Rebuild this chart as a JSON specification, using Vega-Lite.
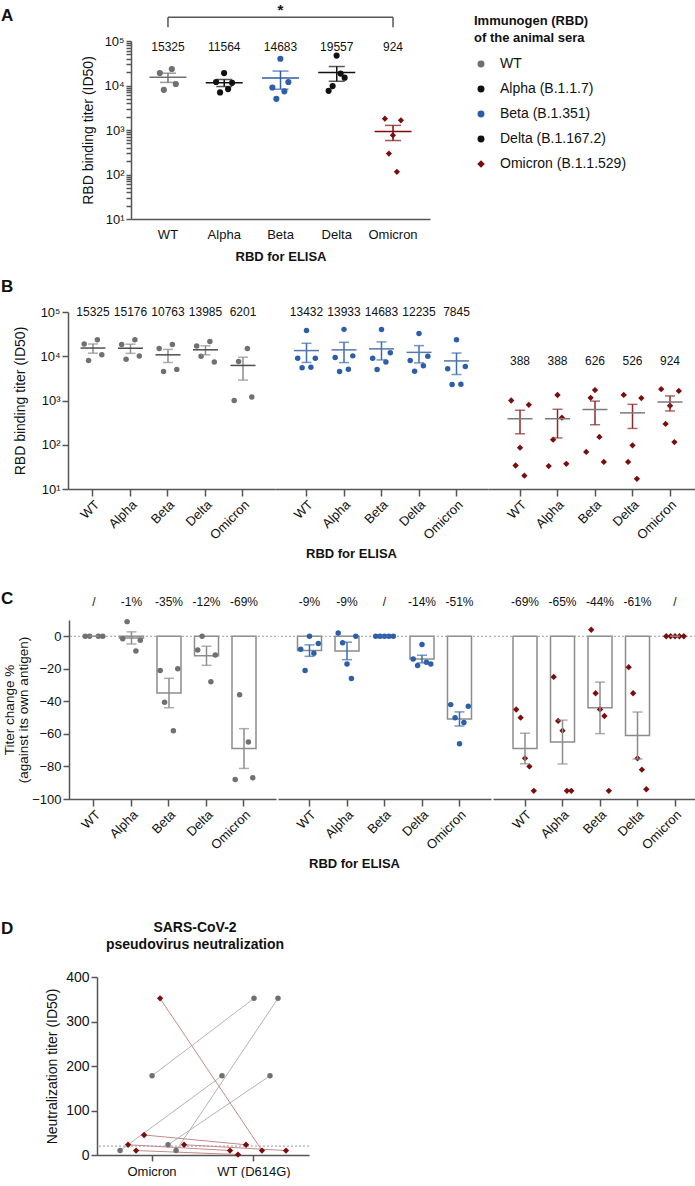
{
"$schema": "https://vega.github.io/schema/vega-lite/v6.json",
"padding": {"left": 1, "top": 2, "right": 0, "bottom": 0},
"config": {
  "font": "Liberation Sans",
  "view": {"stroke": null},
  "axis": {"grid": false, "domainColor": "#555555", "domainWidth": 1.5, "tickColor": "#555555", "tickWidth": 1.5, "labelColor": "#111111", "titleColor": "#111111", "labelFontSize": 13, "titleFontSize": 14, "titleFontWeight": "normal", "labelOverlap": false},
  "axisY": {"labelOverlap": false},
  "axisQuantitative": {"labelOverlap": false},
  "title": {"fontWeight": "bold", "color": "#111111"},
  "legend": {"labelColor": "#111111", "titleColor": "#111111"}
},
"datasets": {
  "bind": [
    {"sera":"WT","antigen":"WT","rep":1,"titer":19000},{"sera":"WT","antigen":"WT","rep":2,"titer":8000},{"sera":"WT","antigen":"WT","rep":4,"titer":23500},{"sera":"WT","antigen":"WT","rep":5,"titer":10800},
    {"sera":"WT","antigen":"Alpha","rep":1,"titer":18500},{"sera":"WT","antigen":"Alpha","rep":2,"titer":8600},{"sera":"WT","antigen":"Alpha","rep":4,"titer":23500},{"sera":"WT","antigen":"Alpha","rep":5,"titer":10100},
    {"sera":"WT","antigen":"Beta","rep":1,"titer":15000},{"sera":"WT","antigen":"Beta","rep":2,"titer":4500},{"sera":"WT","antigen":"Beta","rep":4,"titer":18500},{"sera":"WT","antigen":"Beta","rep":5,"titer":5050},
    {"sera":"WT","antigen":"Delta","rep":1,"titer":17000},{"sera":"WT","antigen":"Delta","rep":2,"titer":10000},{"sera":"WT","antigen":"Delta","rep":4,"titer":21500},{"sera":"WT","antigen":"Delta","rep":5,"titer":7440},
    {"sera":"WT","antigen":"Omicron","rep":1,"titer":1000},{"sera":"WT","antigen":"Omicron","rep":2,"titer":7600},{"sera":"WT","antigen":"Omicron","rep":4,"titer":15000},{"sera":"WT","antigen":"Omicron","rep":5,"titer":1200},
    {"sera":"Alpha","antigen":"Alpha","rep":1,"titer":12000},{"sera":"Alpha","antigen":"Alpha","rep":2,"titer":7000},{"sera":"Alpha","antigen":"Alpha","rep":3,"titer":19000},{"sera":"Alpha","antigen":"Alpha","rep":4,"titer":8300},{"sera":"Alpha","antigen":"Alpha","rep":5,"titer":11500},
    {"sera":"Beta","antigen":"WT","rep":1,"titer":9000},{"sera":"Beta","antigen":"WT","rep":2,"titer":5500},{"sera":"Beta","antigen":"WT","rep":3,"titer":38000},{"sera":"Beta","antigen":"WT","rep":4,"titer":5660},{"sera":"Beta","antigen":"WT","rep":5,"titer":9000},
    {"sera":"Beta","antigen":"Alpha","rep":1,"titer":9400},{"sera":"Beta","antigen":"Alpha","rep":2,"titer":4500},{"sera":"Beta","antigen":"Alpha","rep":3,"titer":40500},{"sera":"Beta","antigen":"Alpha","rep":4,"titer":5065},{"sera":"Beta","antigen":"Alpha","rep":5,"titer":10200},
    {"sera":"Beta","antigen":"Beta","rep":1,"titer":9000},{"sera":"Beta","antigen":"Beta","rep":2,"titer":5015},{"sera":"Beta","antigen":"Beta","rep":3,"titer":40000},{"sera":"Beta","antigen":"Beta","rep":4,"titer":7400},{"sera":"Beta","antigen":"Beta","rep":5,"titer":12000},
    {"sera":"Beta","antigen":"Delta","rep":1,"titer":8000},{"sera":"Beta","antigen":"Delta","rep":2,"titer":4600},{"sera":"Beta","antigen":"Delta","rep":3,"titer":32500},{"sera":"Beta","antigen":"Delta","rep":4,"titer":6075},{"sera":"Beta","antigen":"Delta","rep":5,"titer":10000},
    {"sera":"Beta","antigen":"Omicron","rep":1,"titer":5200},{"sera":"Beta","antigen":"Omicron","rep":2,"titer":2300},{"sera":"Beta","antigen":"Omicron","rep":3,"titer":23500},{"sera":"Beta","antigen":"Omicron","rep":4,"titer":2325},{"sera":"Beta","antigen":"Omicron","rep":5,"titer":5900},
    {"sera":"Delta","antigen":"Delta","rep":1,"titer":7600},{"sera":"Delta","antigen":"Delta","rep":2,"titer":9700},{"sera":"Delta","antigen":"Delta","rep":3,"titer":47000},{"sera":"Delta","antigen":"Delta","rep":4,"titer":18500},{"sera":"Delta","antigen":"Delta","rep":5,"titer":15000},
    {"sera":"Omicron","antigen":"WT","rep":1,"titer":1000},{"sera":"Omicron","antigen":"WT","rep":2,"titer":34},{"sera":"Omicron","antigen":"WT","rep":3,"titer":86},{"sera":"Omicron","antigen":"WT","rep":4,"titer":20},{"sera":"Omicron","antigen":"WT","rep":5,"titer":800},
    {"sera":"Omicron","antigen":"Alpha","rep":1,"titer":33},{"sera":"Omicron","antigen":"Alpha","rep":2,"titer":130},{"sera":"Omicron","antigen":"Alpha","rep":3,"titer":1330},{"sera":"Omicron","antigen":"Alpha","rep":4,"titer":410},{"sera":"Omicron","antigen":"Alpha","rep":5,"titer":37},
    {"sera":"Omicron","antigen":"Beta","rep":1,"titer":69},{"sera":"Omicron","antigen":"Beta","rep":2,"titer":1150},{"sera":"Omicron","antigen":"Beta","rep":3,"titer":1720},{"sera":"Omicron","antigen":"Beta","rep":4,"titer":150},{"sera":"Omicron","antigen":"Beta","rep":5,"titer":41},
    {"sera":"Omicron","antigen":"Delta","rep":1,"titer":1340},{"sera":"Omicron","antigen":"Delta","rep":2,"titer":41},{"sera":"Omicron","antigen":"Delta","rep":3,"titer":97},{"sera":"Omicron","antigen":"Delta","rep":4,"titer":17},{"sera":"Omicron","antigen":"Delta","rep":5,"titer":1135},
    {"sera":"Omicron","antigen":"Omicron","rep":1,"titer":1800},{"sera":"Omicron","antigen":"Omicron","rep":2,"titer":295},{"sera":"Omicron","antigen":"Omicron","rep":3,"titer":760},{"sera":"Omicron","antigen":"Omicron","rep":4,"titer":115},{"sera":"Omicron","antigen":"Omicron","rep":5,"titer":1650}
  ],
  "bindLab": [
    {"sera":"WT","antigen":"WT","label":"15325"},{"sera":"WT","antigen":"Alpha","label":"15176"},{"sera":"WT","antigen":"Beta","label":"10763"},{"sera":"WT","antigen":"Delta","label":"13985"},{"sera":"WT","antigen":"Omicron","label":"6201"},
    {"sera":"Alpha","antigen":"Alpha","label":"11564"},
    {"sera":"Beta","antigen":"WT","label":"13432"},{"sera":"Beta","antigen":"Alpha","label":"13933"},{"sera":"Beta","antigen":"Beta","label":"14683"},{"sera":"Beta","antigen":"Delta","label":"12235"},{"sera":"Beta","antigen":"Omicron","label":"7845"},
    {"sera":"Delta","antigen":"Delta","label":"19557"},
    {"sera":"Omicron","antigen":"WT","label":"388"},{"sera":"Omicron","antigen":"Alpha","label":"388"},{"sera":"Omicron","antigen":"Beta","label":"626"},{"sera":"Omicron","antigen":"Delta","label":"526"},{"sera":"Omicron","antigen":"Omicron","label":"924"}
  ],
  "chg": [
    {"sera":"WT","antigen":"WT","rep":1,"change":0},{"sera":"WT","antigen":"WT","rep":2,"change":0},{"sera":"WT","antigen":"WT","rep":4,"change":0},{"sera":"WT","antigen":"WT","rep":5,"change":0},
    {"sera":"WT","antigen":"Alpha","rep":1,"change":-1.5},{"sera":"WT","antigen":"Alpha","rep":2,"change":9},{"sera":"WT","antigen":"Alpha","rep":4,"change":-9},{"sera":"WT","antigen":"Alpha","rep":5,"change":-2.5},
    {"sera":"WT","antigen":"Beta","rep":1,"change":-21},{"sera":"WT","antigen":"Beta","rep":2,"change":-40.5},{"sera":"WT","antigen":"Beta","rep":4,"change":-58},{"sera":"WT","antigen":"Beta","rep":5,"change":-20},
    {"sera":"WT","antigen":"Delta","rep":1,"change":-8.5},{"sera":"WT","antigen":"Delta","rep":2,"change":0},{"sera":"WT","antigen":"Delta","rep":4,"change":-28},{"sera":"WT","antigen":"Delta","rep":5,"change":-11.5},
    {"sera":"WT","antigen":"Omicron","rep":1,"change":-88},{"sera":"WT","antigen":"Omicron","rep":2,"change":-36},{"sera":"WT","antigen":"Omicron","rep":4,"change":-65},{"sera":"WT","antigen":"Omicron","rep":5,"change":-87},
    {"sera":"Beta","antigen":"WT","rep":1,"change":-8},{"sera":"Beta","antigen":"WT","rep":2,"change":-21},{"sera":"Beta","antigen":"WT","rep":3,"change":0},{"sera":"Beta","antigen":"WT","rep":4,"change":-10.5},{"sera":"Beta","antigen":"WT","rep":5,"change":-4.5},
    {"sera":"Beta","antigen":"Alpha","rep":1,"change":2},{"sera":"Beta","antigen":"Alpha","rep":2,"change":-4},{"sera":"Beta","antigen":"Alpha","rep":3,"change":-17},{"sera":"Beta","antigen":"Alpha","rep":4,"change":-26},{"sera":"Beta","antigen":"Alpha","rep":5,"change":0},
    {"sera":"Beta","antigen":"Beta","rep":1,"change":0},{"sera":"Beta","antigen":"Beta","rep":2,"change":0},{"sera":"Beta","antigen":"Beta","rep":3,"change":0},{"sera":"Beta","antigen":"Beta","rep":4,"change":0},{"sera":"Beta","antigen":"Beta","rep":5,"change":0},
    {"sera":"Beta","antigen":"Delta","rep":1,"change":-14},{"sera":"Beta","antigen":"Delta","rep":2,"change":-18},{"sera":"Beta","antigen":"Delta","rep":3,"change":-5},{"sera":"Beta","antigen":"Delta","rep":4,"change":-16},{"sera":"Beta","antigen":"Delta","rep":5,"change":-17},
    {"sera":"Beta","antigen":"Omicron","rep":1,"change":-42},{"sera":"Beta","antigen":"Omicron","rep":2,"change":-50},{"sera":"Beta","antigen":"Omicron","rep":3,"change":-66},{"sera":"Beta","antigen":"Omicron","rep":4,"change":-53},{"sera":"Beta","antigen":"Omicron","rep":5,"change":-43},
    {"sera":"Omicron","antigen":"WT","rep":1,"change":-45},{"sera":"Omicron","antigen":"WT","rep":2,"change":-50},{"sera":"Omicron","antigen":"WT","rep":3,"change":-75},{"sera":"Omicron","antigen":"WT","rep":4,"change":-80},{"sera":"Omicron","antigen":"WT","rep":5,"change":-95},
    {"sera":"Omicron","antigen":"Alpha","rep":1,"change":-25},{"sera":"Omicron","antigen":"Alpha","rep":2,"change":-52},{"sera":"Omicron","antigen":"Alpha","rep":3,"change":-58},{"sera":"Omicron","antigen":"Alpha","rep":4,"change":-95},{"sera":"Omicron","antigen":"Alpha","rep":5,"change":-95},
    {"sera":"Omicron","antigen":"Beta","rep":1,"change":4},{"sera":"Omicron","antigen":"Beta","rep":2,"change":-35},{"sera":"Omicron","antigen":"Beta","rep":3,"change":-45},{"sera":"Omicron","antigen":"Beta","rep":4,"change":-49},{"sera":"Omicron","antigen":"Beta","rep":5,"change":-95},
    {"sera":"Omicron","antigen":"Delta","rep":1,"change":-19},{"sera":"Omicron","antigen":"Delta","rep":2,"change":-35},{"sera":"Omicron","antigen":"Delta","rep":3,"change":-75},{"sera":"Omicron","antigen":"Delta","rep":4,"change":-82},{"sera":"Omicron","antigen":"Delta","rep":5,"change":-94},
    {"sera":"Omicron","antigen":"Omicron","rep":1,"change":0},{"sera":"Omicron","antigen":"Omicron","rep":2,"change":0},{"sera":"Omicron","antigen":"Omicron","rep":3,"change":0},{"sera":"Omicron","antigen":"Omicron","rep":4,"change":0},{"sera":"Omicron","antigen":"Omicron","rep":5,"change":0}
  ],
  "chgLab": [
    {"sera":"WT","antigen":"WT","label":"/"},{"sera":"WT","antigen":"Alpha","label":"-1%"},{"sera":"WT","antigen":"Beta","label":"-35%"},{"sera":"WT","antigen":"Delta","label":"-12%"},{"sera":"WT","antigen":"Omicron","label":"-69%"},
    {"sera":"Beta","antigen":"WT","label":"-9%"},{"sera":"Beta","antigen":"Alpha","label":"-9%"},{"sera":"Beta","antigen":"Beta","label":"/"},{"sera":"Beta","antigen":"Delta","label":"-14%"},{"sera":"Beta","antigen":"Omicron","label":"-51%"},
    {"sera":"Omicron","antigen":"WT","label":"-69%"},{"sera":"Omicron","antigen":"Alpha","label":"-65%"},{"sera":"Omicron","antigen":"Beta","label":"-44%"},{"sera":"Omicron","antigen":"Delta","label":"-61%"},{"sera":"Omicron","antigen":"Omicron","label":"/"}
  ],
  "neut": [
    {"sera":"WT","animal":"W1","virus":"Omicron","titer":178},{"sera":"WT","animal":"W1","virus":"WT (D614G)","titer":352},
    {"sera":"WT","animal":"W2","virus":"Omicron","titer":10},{"sera":"WT","animal":"W2","virus":"WT (D614G)","titer":352},
    {"sera":"WT","animal":"W3","virus":"Omicron","titer":10},{"sera":"WT","animal":"W3","virus":"WT (D614G)","titer":178},
    {"sera":"WT","animal":"W4","virus":"Omicron","titer":23},{"sera":"WT","animal":"W4","virus":"WT (D614G)","titer":178},
    {"sera":"Omicron","animal":"O1","virus":"Omicron","titer":352},{"sera":"Omicron","animal":"O1","virus":"WT (D614G)","titer":10},
    {"sera":"Omicron","animal":"O2","virus":"Omicron","titer":45},{"sera":"Omicron","animal":"O2","virus":"WT (D614G)","titer":23},
    {"sera":"Omicron","animal":"O3","virus":"Omicron","titer":23},{"sera":"Omicron","animal":"O3","virus":"WT (D614G)","titer":10},
    {"sera":"Omicron","animal":"O4","virus":"Omicron","titer":10},{"sera":"Omicron","animal":"O4","virus":"WT (D614G)","titer":1},
    {"sera":"Omicron","animal":"O5","virus":"Omicron","titer":23},{"sera":"Omicron","animal":"O5","virus":"WT (D614G)","titer":10}
  ]
},
"resolve": {"scale": {"x": "independent", "y": "independent", "xOffset": "independent", "color": "independent", "shape": "independent"}},
"spacing": 29,
"vconcat": [
 {"spacing": 15,
  "resolve": {"scale": {"x": "independent", "y": "independent", "xOffset": "independent", "color": "independent", "shape": "independent"}},
  "vconcat": [
   {"title": {"text": "A", "anchor": "start", "fontSize": 17, "offset": -22},
    "spacing": 0,
    "resolve": {"scale": {"x": "independent", "y": "independent", "xOffset": "independent", "color": "independent", "shape": "independent"}},
    "hconcat": [
     {"width": 80, "height": 1, "data": {"values": [{}]}, "mark": {"type": "text"}, "encoding": {"text": {"value": ""}}},
     {"width": 299, "height": 178,
      "layer": [
       {"data": {"name": "bind"}, "transform": [{"filter": "datum.sera === datum.antigen"}],
        "mark": {"type": "point", "filled": true, "opacity": 1, "size": 38},
        "encoding": {
          "x": {"field": "antigen", "type": "nominal", "title": "RBD for ELISA", "scale": {"domain": ["WT","Alpha","Beta","Delta","Omicron"], "paddingInner": 0, "paddingOuter": 0.157}, "axis": {"labelAngle": 0, "ticks": false, "labelPadding": 9, "labelFontSize": 13, "titleFontWeight": "bold", "titleFontSize": 13, "titlePadding": 9}},
          "xOffset": {"field": "rep", "type": "ordinal", "scale": {"type": "point", "domain": [1,2,3,4,5], "range": [18, 38]}},
          "y": {"field": "titer", "type": "quantitative", "title": "RBD binding titer (ID50)", "scale": {"type": "log", "domain": [10, 100000], "nice": false}, "axis": {"values": [10,20,30,40,50,60,70,80,90,100,200,300,400,500,600,700,800,900,1000,2000,3000,4000,5000,6000,7000,8000,9000,10000,20000,30000,40000,50000,60000,70000,80000,90000,100000], "labelExpr": "indexof([10,100,1000,10000,100000], datum.value) >= 0 ? '10' + ['⁰','¹','²','³','⁴','⁵'][round(log(datum.value)/LN10)] : ''", "tickSize": 5, "labelPadding": 2, "titlePadding": 8, "labelOverlap": false}},
          "color": {"field": "sera", "type": "nominal", "title": ["Immunogen (RBD)", "of the animal sera"], "scale": {"domain": ["WT","Alpha","Beta","Delta","Omicron"], "range": ["#707070","#111111","#2d5ea8","#111111","#7b0d0d"]},
            "legend": {"orient": "none", "legendX": 343, "legendY": -26, "titleFontSize": 13, "titleFontWeight": "bold", "titleLineHeight": 17, "titlePadding": 12, "labelFontSize": 14, "labelOffset": 12, "rowPadding": 11, "symbolSize": 30,
              "labelExpr": "datum.label == 'Alpha' ? 'Alpha (B.1.1.7)' : datum.label == 'Beta' ? 'Beta (B.1.351)' : datum.label == 'Delta' ? 'Delta (B.1.167.2)' : datum.label == 'Omicron' ? 'Omicron (B.1.1.529)' : datum.label"}},
          "shape": {"field": "sera", "type": "nominal", "title": ["Immunogen (RBD)", "of the animal sera"], "scale": {"domain": ["WT","Alpha","Beta","Delta","Omicron"], "range": ["circle","circle","circle","circle","diamond"]},
            "legend": {"orient": "none", "legendX": 343, "legendY": -26, "titleFontSize": 13, "titleFontWeight": "bold", "titleLineHeight": 17, "titlePadding": 12, "labelFontSize": 14, "labelOffset": 12, "rowPadding": 11, "symbolSize": 30,
              "labelExpr": "datum.label == 'Alpha' ? 'Alpha (B.1.1.7)' : datum.label == 'Beta' ? 'Beta (B.1.351)' : datum.label == 'Delta' ? 'Delta (B.1.167.2)' : datum.label == 'Omicron' ? 'Omicron (B.1.1.529)' : datum.label"}}
        }},
       {"data": {"name": "bind"}, "transform": [{"filter": "datum.sera === datum.antigen"}],
        "mark": {"type": "errorbar", "extent": "stderr", "thickness": 1.5, "size": 16, "ticks": true},
        "encoding": {
          "x": {"field": "antigen", "type": "nominal", "title": "RBD for ELISA", "scale": {"domain": ["WT","Alpha","Beta","Delta","Omicron"]}},
          "y": {"field": "titer", "type": "quantitative", "title": "RBD binding titer (ID50)"},
          "color": {"field": "sera", "type": "nominal", "legend": null}
        }},
       {"data": {"name": "bind"}, "transform": [{"filter": "datum.sera === datum.antigen"}],
        "mark": {"type": "tick", "thickness": 1.5, "size": 37},
        "encoding": {
          "x": {"field": "antigen", "type": "nominal", "title": "RBD for ELISA", "scale": {"domain": ["WT","Alpha","Beta","Delta","Omicron"]}},
          "y": {"aggregate": "mean", "field": "titer", "type": "quantitative", "title": "RBD binding titer (ID50)"},
          "color": {"field": "sera", "type": "nominal", "legend": null}
        }},
       {"data": {"name": "bindLab"}, "transform": [{"filter": "datum.sera === datum.antigen"}],
        "mark": {"type": "text", "fontSize": 12, "baseline": "middle", "color": "#111111"},
        "encoding": {
          "x": {"field": "antigen", "type": "nominal", "title": "RBD for ELISA", "scale": {"domain": ["WT","Alpha","Beta","Delta","Omicron"]}},
          "y": {"datum": 75000, "type": "quantitative"},
          "text": {"field": "label"}
        }},
       {"data": {"values": [{"antigen": "WT", "antigen2": "Omicron"}]},
        "mark": {"type": "rule", "color": "#555555", "strokeWidth": 1.5},
        "encoding": {
          "x": {"field": "antigen", "type": "nominal", "title": "RBD for ELISA", "bandPosition": 0.5, "scale": {"domain": ["WT","Alpha","Beta","Delta","Omicron"]}},
          "x2": {"field": "antigen2", "bandPosition": 0.5},
          "y": {"datum": 340000, "type": "quantitative"}
        }},
       {"data": {"values": [{"antigen": "WT"}, {"antigen": "Omicron"}]},
        "mark": {"type": "rule", "color": "#555555", "strokeWidth": 1.5},
        "encoding": {
          "x": {"field": "antigen", "type": "nominal", "title": "RBD for ELISA", "bandPosition": 0.5, "scale": {"domain": ["WT","Alpha","Beta","Delta","Omicron"]}},
          "y": {"datum": 340000, "type": "quantitative"},
          "y2": {"datum": 205000}
        }},
       {"data": {"values": [{"antigen": "Beta", "sig": "*"}]},
        "mark": {"type": "text", "fontSize": 15, "fontWeight": "bold", "baseline": "middle", "color": "#111111"},
        "encoding": {
          "x": {"field": "antigen", "type": "nominal", "title": "RBD for ELISA", "scale": {"domain": ["WT","Alpha","Beta","Delta","Omicron"]}},
          "y": {"datum": 500000, "type": "quantitative"},
          "text": {"field": "sig"}
        }}
      ]}
    ]},
   {"title": {"text": "B", "anchor": "start", "fontSize": 17, "offset": 10},
    "spacing": 0,
    "resolve": {"scale": {"x": "independent", "y": "independent", "xOffset": "independent", "color": "independent", "shape": "independent"}},
    "hconcat": [
     {"width": 12, "height": 1, "data": {"values": [{}]}, "mark": {"type": "text"}, "encoding": {"text": {"value": ""}}},
     {"width": 207, "height": 177,
      "layer": [
       {"data": {"name": "bind"}, "transform": [{"filter": "datum.sera === 'WT'"}],
        "mark": {"type": "point", "filled": true, "opacity": 1, "size": 30, "color": "#707070"},
        "encoding": {
          "x": {"field": "antigen", "type": "nominal", "title": null, "scale": {"domain": ["WT","Alpha","Beta","Delta","Omicron"], "paddingInner": 0, "paddingOuter": 0.26, "align": 0.32}, "axis": {"labelAngle": -45, "tickSize": 7, "labelPadding": 2}},
          "xOffset": {"field": "rep", "type": "ordinal", "scale": {"type": "point", "domain": [1,2,3,4,5], "range": [7.75, 29.75]}},
          "y": {"field": "titer", "type": "quantitative", "title": "RBD binding titer (ID50)", "scale": {"type": "log", "domain": [10, 100000], "nice": false}, "axis": {"values": [10,100,1000,10000,100000], "labelExpr": "'10' + ['⁰','¹','²','³','⁴','⁵'][round(log(datum.value)/LN10)]", "tickSize": 6, "labelPadding": 2, "titlePadding": 12, "labelOverlap": false}}
        }},
       {"data": {"name": "bind"}, "transform": [{"filter": "datum.sera === 'WT'"}],
        "mark": {"type": "errorbar", "extent": "stderr", "color": "#8c8c8c", "thickness": 1.5, "size": 10, "ticks": true},
        "encoding": {"x": {"field": "antigen", "type": "nominal", "title": null}, "y": {"field": "titer", "type": "quantitative", "title": "RBD binding titer (ID50)"}}},
       {"data": {"name": "bind"}, "transform": [{"filter": "datum.sera === 'WT'"}],
        "mark": {"type": "tick", "color": "#4d4d4d", "thickness": 1.5, "size": 25},
        "encoding": {"x": {"field": "antigen", "type": "nominal", "title": null}, "y": {"aggregate": "mean", "field": "titer", "type": "quantitative", "title": "RBD binding titer (ID50)"}}},
       {"data": {"name": "bindLab"}, "transform": [{"filter": "datum.sera === 'WT'"}],
        "mark": {"type": "text", "fontSize": 12, "baseline": "middle", "color": "#111111"},
        "encoding": {"x": {"field": "antigen", "type": "nominal", "title": null}, "y": {"datum": 100000, "type": "quantitative"}, "text": {"field": "label"}}}
      ]},
     {"width": 213, "height": 177,
      "layer": [
       {"data": {"name": "bind"}, "transform": [{"filter": "datum.sera === 'Beta'"}],
        "mark": {"type": "point", "filled": true, "opacity": 1, "size": 30, "color": "#2d5ea8"},
        "encoding": {
          "x": {"field": "antigen", "type": "nominal", "title": "RBD for ELISA", "scale": {"domain": ["WT","Alpha","Beta","Delta","Omicron"], "paddingInner": 0, "paddingOuter": 0.34, "align": 0.5}, "axis": {"labelAngle": -45, "tickSize": 7, "labelPadding": 2, "titleFontWeight": "bold", "titleFontSize": 13, "titlePadding": 6, "titleX": 76}},
          "xOffset": {"field": "rep", "type": "ordinal", "scale": {"type": "point", "domain": [1,2,3,4,5], "range": [7.75, 29.75]}},
          "y": {"field": "titer", "type": "quantitative", "scale": {"type": "log", "domain": [10, 100000], "nice": false}, "axis": null}
        }},
       {"data": {"name": "bind"}, "transform": [{"filter": "datum.sera === 'Beta'"}],
        "mark": {"type": "errorbar", "extent": "stderr", "color": "#3b6cb4", "thickness": 1.5, "size": 10, "ticks": true},
        "encoding": {"x": {"field": "antigen", "type": "nominal", "title": "RBD for ELISA"}, "y": {"field": "titer", "type": "quantitative", "axis": null}}},
       {"data": {"name": "bind"}, "transform": [{"filter": "datum.sera === 'Beta'"}],
        "mark": {"type": "tick", "color": "#5577aa", "thickness": 1.5, "size": 25},
        "encoding": {"x": {"field": "antigen", "type": "nominal", "title": "RBD for ELISA"}, "y": {"aggregate": "mean", "field": "titer", "type": "quantitative", "axis": null}}},
       {"data": {"name": "bindLab"}, "transform": [{"filter": "datum.sera === 'Beta'"}],
        "mark": {"type": "text", "fontSize": 12, "baseline": "middle", "color": "#111111"},
        "encoding": {"x": {"field": "antigen", "type": "nominal", "title": "RBD for ELISA"}, "y": {"datum": 100000, "type": "quantitative", "axis": null}, "text": {"field": "label"}}}
      ]},
     {"width": 207, "height": 177,
      "layer": [
       {"data": {"name": "bind"}, "transform": [{"filter": "datum.sera === 'Omicron'"}],
        "mark": {"type": "point", "filled": true, "opacity": 1, "size": 40, "shape": "diamond", "color": "#7b0d0d"},
        "encoding": {
          "x": {"field": "antigen", "type": "nominal", "title": null, "scale": {"domain": ["WT","Alpha","Beta","Delta","Omicron"], "paddingInner": 0, "paddingOuter": 0.26, "align": 0.68}, "axis": {"labelAngle": -45, "tickSize": 7, "labelPadding": 2}},
          "xOffset": {"field": "rep", "type": "ordinal", "scale": {"type": "point", "domain": [1,2,3,4,5], "range": [7.75, 29.75]}},
          "y": {"field": "titer", "type": "quantitative", "scale": {"type": "log", "domain": [10, 100000], "nice": false}, "axis": null}
        }},
       {"data": {"name": "bind"}, "transform": [{"filter": "datum.sera === 'Omicron'"}],
        "mark": {"type": "errorbar", "extent": "stderr", "color": "#8e2a2a", "thickness": 1.5, "size": 10, "ticks": true},
        "encoding": {"x": {"field": "antigen", "type": "nominal", "title": null}, "y": {"field": "titer", "type": "quantitative", "axis": null}}},
       {"data": {"name": "bind"}, "transform": [{"filter": "datum.sera === 'Omicron'"}],
        "mark": {"type": "tick", "color": "#7a7a7a", "thickness": 1.5, "size": 25},
        "encoding": {"x": {"field": "antigen", "type": "nominal", "title": null}, "y": {"aggregate": "mean", "field": "titer", "type": "quantitative", "axis": null}}},
       {"data": {"name": "bindLab"}, "transform": [{"filter": "datum.sera === 'Omicron'"}],
        "mark": {"type": "text", "fontSize": 12, "baseline": "middle", "color": "#111111"},
        "encoding": {"x": {"field": "antigen", "type": "nominal", "title": null}, "y": {"datum": 7943, "type": "quantitative", "axis": null}, "text": {"field": "label"}}}
      ]}
    ]}
  ]},
 {"spacing": 49,
  "resolve": {"scale": {"x": "independent", "y": "independent", "xOffset": "independent", "color": "independent", "shape": "independent"}},
  "vconcat": [
   {"title": {"text": "C", "anchor": "start", "fontSize": 17, "offset": -12},
    "spacing": 0,
    "resolve": {"scale": {"x": "independent", "y": "independent", "xOffset": "independent", "color": "independent", "shape": "independent"}},
    "hconcat": [
     {"width": 1, "height": 1, "data": {"values": [{}]}, "mark": {"type": "text"}, "encoding": {"text": {"value": ""}}},
     {"width": 207, "height": 179,
      "layer": [
       {"data": {"name": "chg"}, "transform": [{"filter": "datum.sera === 'WT'"}, {"aggregate": [{"op": "mean", "field": "change", "as": "meanChange"}], "groupby": ["antigen"]}, {"filter": "datum.meanChange !== 0"}],
        "mark": {"type": "bar", "fill": "#ffffff", "stroke": "#8c8c8c", "strokeWidth": 1.5, "width": 24},
        "encoding": {
          "x": {"field": "antigen", "type": "nominal", "title": null, "scale": {"domain": ["WT","Alpha","Beta","Delta","Omicron"], "paddingInner": 0, "paddingOuter": 0.26, "align": 0.32}, "axis": {"labelAngle": -45, "tickSize": 7, "labelPadding": 2}},
          "y": {"field": "meanChange", "type": "quantitative", "scale": {"domain": [-100, 10], "nice": false, "zero": false}, "axis": {"title": ["Titer change %", "(against its own antigen)"], "values": [-100,-80,-60,-40,-20,0], "tickSize": 6, "labelPadding": 2, "titlePadding": 1, "titleFontSize": 13.5, "titleLineHeight": 14, "labelOverlap": false}}
        }},
       {"data": {"values": [{}]},
        "mark": {"type": "rule", "color": "#9a9a9a", "strokeDash": [2, 2], "strokeWidth": 1},
        "encoding": {"y": {"datum": 0, "type": "quantitative", "axis": {"title": ["Titer change %", "(against its own antigen)"], "values": [-100,-80,-60,-40,-20,0], "tickSize": 6, "labelPadding": 2, "titlePadding": 1, "titleFontSize": 13.5, "titleLineHeight": 14, "labelOverlap": false}}}},
       {"data": {"name": "chg"}, "transform": [{"filter": "datum.sera === 'WT'"}],
        "mark": {"type": "point", "filled": true, "opacity": 1, "size": 30, "color": "#707070"},
        "encoding": {
          "x": {"field": "antigen", "type": "nominal", "title": null},
          "xOffset": {"field": "rep", "type": "ordinal", "scale": {"type": "point", "domain": [1,2,3,4,5], "range": [7.75, 29.75]}},
          "y": {"field": "change", "type": "quantitative", "axis": {"title": ["Titer change %", "(against its own antigen)"], "values": [-100,-80,-60,-40,-20,0], "tickSize": 6, "labelPadding": 2, "titlePadding": 1, "titleFontSize": 13.5, "titleLineHeight": 14, "labelOverlap": false}}
        }},
       {"data": {"name": "chg"}, "transform": [{"filter": "datum.sera === 'WT'"}],
        "mark": {"type": "errorbar", "extent": "stderr", "color": "#8c8c8c", "thickness": 1.5, "size": 10, "ticks": true},
        "encoding": {"x": {"field": "antigen", "type": "nominal", "title": null}, "y": {"field": "change", "type": "quantitative", "axis": {"title": ["Titer change %", "(against its own antigen)"], "values": [-100,-80,-60,-40,-20,0], "tickSize": 6, "labelPadding": 2, "titlePadding": 1, "titleFontSize": 13.5, "titleLineHeight": 14, "labelOverlap": false}}}},
       {"data": {"name": "chgLab"}, "transform": [{"filter": "datum.sera === 'WT'"}],
        "mark": {"type": "text", "fontSize": 12, "baseline": "middle", "color": "#111111"},
        "encoding": {"x": {"field": "antigen", "type": "nominal", "title": null}, "y": {"datum": 21, "type": "quantitative", "axis": {"title": ["Titer change %", "(against its own antigen)"], "values": [-100,-80,-60,-40,-20,0], "tickSize": 6, "labelPadding": 2, "titlePadding": 1, "titleFontSize": 13.5, "titleLineHeight": 14, "labelOverlap": false}}, "text": {"field": "label"}}}
      ]},
     {"width": 213, "height": 179,
      "layer": [
       {"data": {"name": "chg"}, "transform": [{"filter": "datum.sera === 'Beta'"}, {"aggregate": [{"op": "mean", "field": "change", "as": "meanChange"}], "groupby": ["antigen"]}, {"filter": "datum.meanChange !== 0"}],
        "mark": {"type": "bar", "fill": "#ffffff", "stroke": "#8c8c8c", "strokeWidth": 1.5, "width": 24},
        "encoding": {
          "x": {"field": "antigen", "type": "nominal", "title": "RBD for ELISA", "scale": {"domain": ["WT","Alpha","Beta","Delta","Omicron"], "paddingInner": 0, "paddingOuter": 0.34, "align": 0.5}, "axis": {"labelAngle": -45, "tickSize": 7, "labelPadding": 2, "titleFontWeight": "bold", "titleFontSize": 13, "titlePadding": 6, "titleX": 76}},
          "y": {"field": "meanChange", "type": "quantitative", "scale": {"domain": [-100, 10], "nice": false, "zero": false}, "axis": null}
        }},
       {"data": {"values": [{}]},
        "mark": {"type": "rule", "color": "#9a9a9a", "strokeDash": [2, 2], "strokeWidth": 1},
        "encoding": {"y": {"datum": 0, "type": "quantitative", "axis": null}}},
       {"data": {"name": "chg"}, "transform": [{"filter": "datum.sera === 'Beta'"}],
        "mark": {"type": "point", "filled": true, "opacity": 1, "size": 30, "color": "#2d5ea8"},
        "encoding": {
          "x": {"field": "antigen", "type": "nominal", "title": "RBD for ELISA"},
          "xOffset": {"field": "rep", "type": "ordinal", "scale": {"type": "point", "domain": [1,2,3,4,5], "range": [7.75, 29.75]}},
          "y": {"field": "change", "type": "quantitative", "axis": null}
        }},
       {"data": {"name": "chg"}, "transform": [{"filter": "datum.sera === 'Beta'"}],
        "mark": {"type": "errorbar", "extent": "stderr", "color": "#3b6cb4", "thickness": 1.5, "size": 10, "ticks": true},
        "encoding": {"x": {"field": "antigen", "type": "nominal", "title": "RBD for ELISA"}, "y": {"field": "change", "type": "quantitative", "axis": null}}},
       {"data": {"name": "chgLab"}, "transform": [{"filter": "datum.sera === 'Beta'"}],
        "mark": {"type": "text", "fontSize": 12, "baseline": "middle", "color": "#111111"},
        "encoding": {"x": {"field": "antigen", "type": "nominal", "title": "RBD for ELISA"}, "y": {"datum": 21, "type": "quantitative", "axis": null}, "text": {"field": "label"}}}
      ]},
     {"width": 207, "height": 179,
      "layer": [
       {"data": {"name": "chg"}, "transform": [{"filter": "datum.sera === 'Omicron'"}, {"aggregate": [{"op": "mean", "field": "change", "as": "meanChange"}], "groupby": ["antigen"]}, {"filter": "datum.meanChange !== 0"}],
        "mark": {"type": "bar", "fill": "#ffffff", "stroke": "#8c8c8c", "strokeWidth": 1.5, "width": 24},
        "encoding": {
          "x": {"field": "antigen", "type": "nominal", "title": null, "scale": {"domain": ["WT","Alpha","Beta","Delta","Omicron"], "paddingInner": 0, "paddingOuter": 0.26, "align": 0.68}, "axis": {"labelAngle": -45, "tickSize": 7, "labelPadding": 2}},
          "y": {"field": "meanChange", "type": "quantitative", "scale": {"domain": [-100, 10], "nice": false, "zero": false}, "axis": null}
        }},
       {"data": {"values": [{}]},
        "mark": {"type": "rule", "color": "#9a9a9a", "strokeDash": [2, 2], "strokeWidth": 1},
        "encoding": {"y": {"datum": 0, "type": "quantitative", "axis": null}}},
       {"data": {"name": "chg"}, "transform": [{"filter": "datum.sera === 'Omicron'"}],
        "mark": {"type": "point", "filled": true, "opacity": 1, "size": 40, "shape": "diamond", "color": "#7b0d0d"},
        "encoding": {
          "x": {"field": "antigen", "type": "nominal", "title": null},
          "xOffset": {"field": "rep", "type": "ordinal", "scale": {"type": "point", "domain": [1,2,3,4,5], "range": [7.75, 29.75]}},
          "y": {"field": "change", "type": "quantitative", "axis": null}
        }},
       {"data": {"name": "chg"}, "transform": [{"filter": "datum.sera === 'Omicron'"}],
        "mark": {"type": "errorbar", "extent": "stderr", "color": "#8c8c8c", "thickness": 1.5, "size": 10, "ticks": true},
        "encoding": {"x": {"field": "antigen", "type": "nominal", "title": null}, "y": {"field": "change", "type": "quantitative", "axis": null}}},
       {"data": {"name": "chgLab"}, "transform": [{"filter": "datum.sera === 'Omicron'"}],
        "mark": {"type": "text", "fontSize": 12, "baseline": "middle", "color": "#111111"},
        "encoding": {"x": {"field": "antigen", "type": "nominal", "title": null}, "y": {"datum": 21, "type": "quantitative", "axis": null}, "text": {"field": "label"}}}
      ]}
    ]},
   {"title": {"text": "D", "anchor": "start", "fontSize": 17, "offset": -17},
    "spacing": 0,
    "resolve": {"scale": {"x": "independent", "y": "independent", "xOffset": "independent", "color": "independent", "shape": "independent"}},
    "hconcat": [
     {"width": 44, "height": 1, "data": {"values": [{}]}, "mark": {"type": "text"}, "encoding": {"text": {"value": ""}}},
     {"width": 212, "height": 178,
      "title": {"text": ["SARS-CoV-2", "pseudovirus neutralization"], "anchor": "middle", "fontSize": 14, "lineHeight": 17, "offset": 18, "dx": -8},
      "layer": [
       {"data": {"values": [{}]},
        "mark": {"type": "rule", "color": "#9a9a9a", "strokeDash": [2, 2], "strokeWidth": 1},
        "encoding": {"y": {"datum": 20, "type": "quantitative"}}},
       {"data": {"name": "neut"}, "transform": [{"filter": "datum.sera === 'WT'"}],
        "mark": {"type": "line", "color": "#b3b3b3", "strokeWidth": 1},
        "encoding": {
          "x": {"field": "virus", "type": "nominal", "title": null, "scale": {"domain": ["Omicron", "WT (D614G)"], "paddingInner": 0, "paddingOuter": 0.04}, "axis": {"labelAngle": 0, "tickSize": 6, "labelPadding": 4}},
          "xOffset": {"field": "animal", "type": "nominal", "scale": {"type": "point", "domain": ["W3","O3","O4","O2","W1","O1","W4","W2","O5"], "range": [15, 87]}},
          "y": {"field": "titer", "type": "quantitative", "title": "Neutralization titer (ID50)", "scale": {"domain": [0, 400], "nice": false}, "axis": {"values": [0,100,200,300,400], "tickSize": 6, "labelPadding": 2, "labelFontSize": 14, "titlePadding": 6, "labelOverlap": false}},
          "detail": {"field": "animal", "type": "nominal"}
        }},
       {"data": {"name": "neut"}, "transform": [{"filter": "datum.sera === 'Omicron'"}],
        "mark": {"type": "line", "color": "#c48a8a", "strokeWidth": 1},
        "encoding": {
          "x": {"field": "virus", "type": "nominal", "title": null},
          "xOffset": {"field": "animal", "type": "nominal"},
          "y": {"field": "titer", "type": "quantitative", "title": "Neutralization titer (ID50)"},
          "detail": {"field": "animal", "type": "nominal"}
        }},
       {"data": {"name": "neut"}, "transform": [{"filter": "datum.sera === 'WT'"}],
        "mark": {"type": "point", "filled": true, "opacity": 1, "size": 30, "color": "#707070"},
        "encoding": {
          "x": {"field": "virus", "type": "nominal", "title": null},
          "xOffset": {"field": "animal", "type": "nominal"},
          "y": {"field": "titer", "type": "quantitative", "title": "Neutralization titer (ID50)"}
        }},
       {"data": {"name": "neut"}, "transform": [{"filter": "datum.sera === 'Omicron'"}],
        "mark": {"type": "point", "filled": true, "opacity": 1, "size": 40, "shape": "diamond", "color": "#7b0d0d"},
        "encoding": {
          "x": {"field": "virus", "type": "nominal", "title": null},
          "xOffset": {"field": "animal", "type": "nominal"},
          "y": {"field": "titer", "type": "quantitative", "title": "Neutralization titer (ID50)"}
        }}
      ]}
    ]}
  ]}
]
}
